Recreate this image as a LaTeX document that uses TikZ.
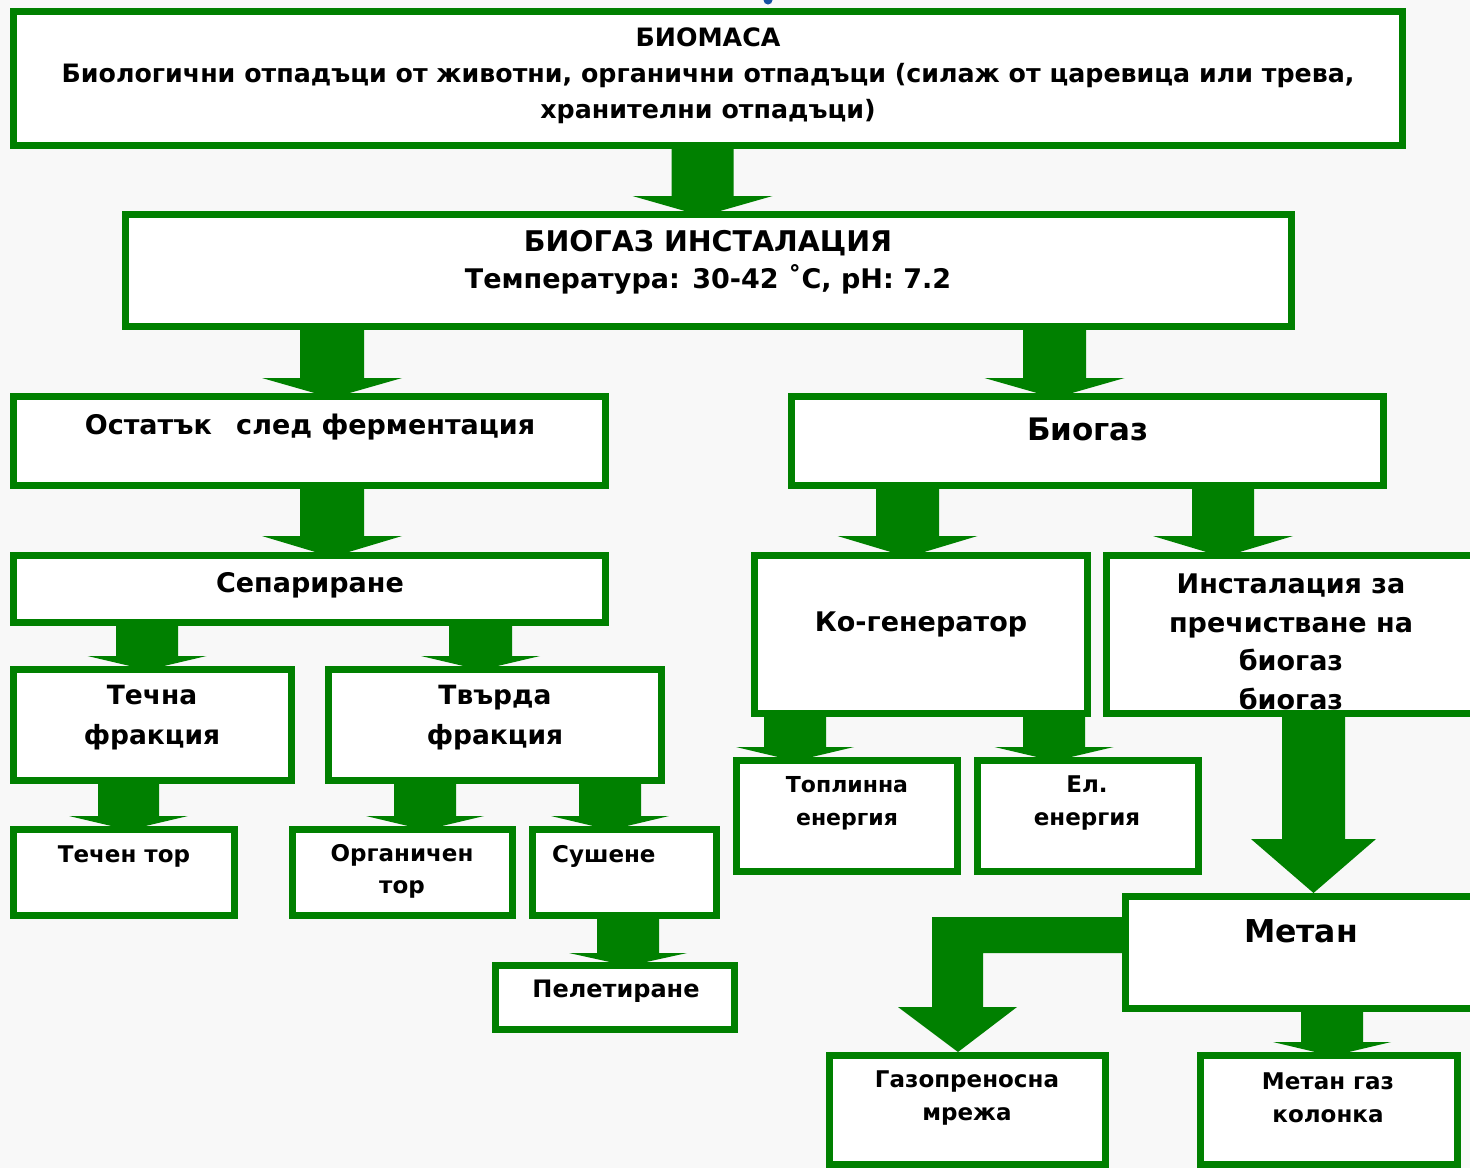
\documentclass[tikz,border=0pt]{standalone}
\usepackage{fontspec}
\setmainfont{DejaVu Sans}
\usetikzlibrary{calc}
\definecolor{grn}{RGB}{0,128,0}
\definecolor{bgc}{RGB}{248,248,248}
\definecolor{dotblue}{RGB}{20,80,160}
\pgfdeclarelayer{back}
\pgfdeclarelayer{arrowlayer}
\pgfsetlayers{back,arrowlayer,main}
% block arrow: from node, to node, x, shaft half, head half, head above target top, tip below target top
\newcommand\barrow[7]{%
  \fill[grn] let \p1=(#1.south), \p2=(#2.north) in
    ({(#3-#4)*1pt},{\y1+6pt}) -- ({(#3-#4)*1pt},{\y2+#6pt}) --
    ({(#3-#5)*1pt},{\y2+#6pt}) -- ({#3*1pt},{\y2-#7pt}) --
    ({(#3+#5)*1pt},{\y2+#6pt}) -- ({(#3+#4)*1pt},{\y2+#6pt}) --
    ({(#3+#4)*1pt},{\y1+6pt}) -- cycle;}
\newcommand\fsz[2]{\fontsize{#1}{#2}\selectfont\bfseries}
\begin{document}
\begin{tikzpicture}[x=1pt,y=-1pt,
  box/.style={draw=grn,line width=7pt,fill=white,inner sep=0pt,outer sep=3.5pt},
  lbl/.style={align=center,inner sep=0pt,text=black}]
\useasboundingbox (0,0) rectangle (1470,1168);
\begin{pgfonlayer}{back}
  \fill[bgc] (0,0) rectangle (1470,1168);
\end{pgfonlayer}
\clip (0,0) rectangle (1470,1168);
\fill[dotblue] (768,0) circle (4.5);
% boxes
\node[box,minimum width=1389,minimum height=134] (bio) at (708,78.5) {};
\node[box,minimum width=1166,minimum height=112] (inst) at (708.5,270.5) {};
\node[box,minimum width=592,minimum height=89] (ost) at (309.5,441) {};
\node[box,minimum width=592,minimum height=89] (biog) at (1087.5,441) {};
\node[box,minimum width=592,minimum height=67] (sep) at (309.5,589) {};
\node[box,minimum width=278,minimum height=111] (techna) at (152.5,725) {};
\node[box,minimum width=333,minimum height=111] (tvarda) at (495,725) {};
\node[box,minimum width=221,minimum height=86] (techen) at (124,872.5) {};
\node[box,minimum width=220,minimum height=86] (organ) at (402.5,872.5) {};
\node[box,minimum width=184,minimum height=86] (sush) at (624.5,872.5) {};
\node[box,minimum width=239,minimum height=64] (pelet) at (615,997.5) {};
\node[box,minimum width=333,minimum height=158] (kogen) at (921,634.5) {};
\node[box,minimum width=370,minimum height=158] (inst2) at (1291.5,634.5) {};
\node[box,minimum width=221,minimum height=111] (topl) at (847,816) {};
\node[box,minimum width=221,minimum height=111] (el) at (1088,816) {};
\node[box,minimum width=351,minimum height=112] (metan) at (1301,952.5) {};
\node[box,minimum width=276,minimum height=109] (gaz) at (967.5,1110) {};
\node[box,minimum width=257,minimum height=109] (kolonka) at (1328.5,1110) {};
% arrows
\begin{pgfonlayer}{arrowlayer}
\barrow{bio}{inst}{702.5}{31}{70}{15}{5}
\barrow{inst}{ost}{332}{32}{70}{15}{5}
\barrow{inst}{biog}{1054.5}{31.5}{70}{15}{5}
\barrow{ost}{sep}{332}{32}{70}{16}{5}
\barrow{biog}{kogen}{907.5}{31.5}{70}{16}{5}
\barrow{biog}{inst2}{1223}{31}{70}{16}{5}
\barrow{sep}{techna}{147}{31}{59.5}{10}{4}
\barrow{sep}{tvarda}{480.5}{31.5}{59.5}{10}{4}
\barrow{techna}{techen}{128.5}{30.5}{59.5}{10}{4}
\barrow{tvarda}{organ}{425}{31}{59}{10}{4}
\barrow{tvarda}{sush}{610}{31}{59}{10}{4}
\barrow{sush}{pelet}{628}{31}{59}{9}{4}
\barrow{kogen}{topl}{795}{31}{59}{10}{4}
\barrow{kogen}{el}{1054}{31}{59.5}{10}{4}
\barrow{inst2}{metan}{1313.5}{31.5}{62.5}{54}{0}
\barrow{metan}{kolonka}{1332}{31}{59}{10}{4}
\fill[grn] let \p1=(metan.north west), \p2=(gaz.north) in
  ({\x1+6pt},{\y1-24pt}) -- (932pt,{\y1-24pt}) -- (932pt,{\y2+45pt}) --
  (898pt,{\y2+45pt}) -- (958pt,\y2) -- (1017pt,{\y2+45pt}) --
  (983pt,{\y2+45pt}) -- (983pt,{\y1-60pt}) -- ({\x1+6pt},{\y1-60pt}) -- cycle;
\end{pgfonlayer}
% labels
\node[lbl,font=\fsz{25.3}{36}] (tbio) at (708,76) {БИОМАСА\\Биологични отпадъци от животни, органични отпадъци (силаж от царевица или трева,\\хранителни отпадъци)};
\node[lbl,font=\fsz{27}{37}] (tinst) at (708,262) {{\fontsize{28.5}{37}\selectfont БИОГАЗ ИНСТАЛАЦИЯ}\\Температура: 30-42 ˚C, pH: 7.2};
\node[lbl,font=\fsz{27}{35}] (tost) at (310,427) {Остатък\hspace{0.9em}след ферментация};
\node[lbl,font=\fsz{31}{38}] (tbiog) at (1088,429) {Биогаз};
\node[lbl,font=\fsz{27}{35}] (tsep) at (310,585) {Сепариране};
\node[lbl,font=\fsz{26.5}{40}] (ttechna) at (152,718) {Течна\\фракция};
\node[lbl,font=\fsz{26.5}{40}] (ttvarda) at (495,718) {Твърда\\фракция};
\node[lbl,font=\fsz{23}{32}] (ttechen) at (124,856) {Течен тор};
\node[lbl,font=\fsz{23}{32}] (torgan) at (402,871) {Органичен\\тор};
\node[lbl,font=\fsz{23}{32},anchor=west] (tsush) at (552,856) {Сушене};
\node[lbl,font=\fsz{24}{32}] (tpelet) at (616,991) {Пелетиране};
\node[lbl,font=\fsz{27}{35}] (tkogen) at (921,624) {Ко-генератор};
\node[lbl,font=\fsz{27}{38.5}] (tinst2) at (1291,642) {Инсталация за\\пречистване на\\биогаз\\биогаз};
\node[lbl,font=\fsz{22}{33}] (ttopl) at (847,803) {Топлинна\\енергия};
\node[lbl,font=\fsz{23}{33}] (tel) at (1087,803) {Ел.\\енергия};
\node[lbl,font=\fsz{31.5}{40}] (tmetan) at (1301,931) {Метан};
\node[lbl,font=\fsz{23}{33}] (tgaz) at (967,1098) {Газопреносна\\мрежа};
\node[lbl,font=\fsz{23}{33}] (tkol) at (1328,1098) {Метан газ\\колонка};
\end{tikzpicture}
\end{document}
